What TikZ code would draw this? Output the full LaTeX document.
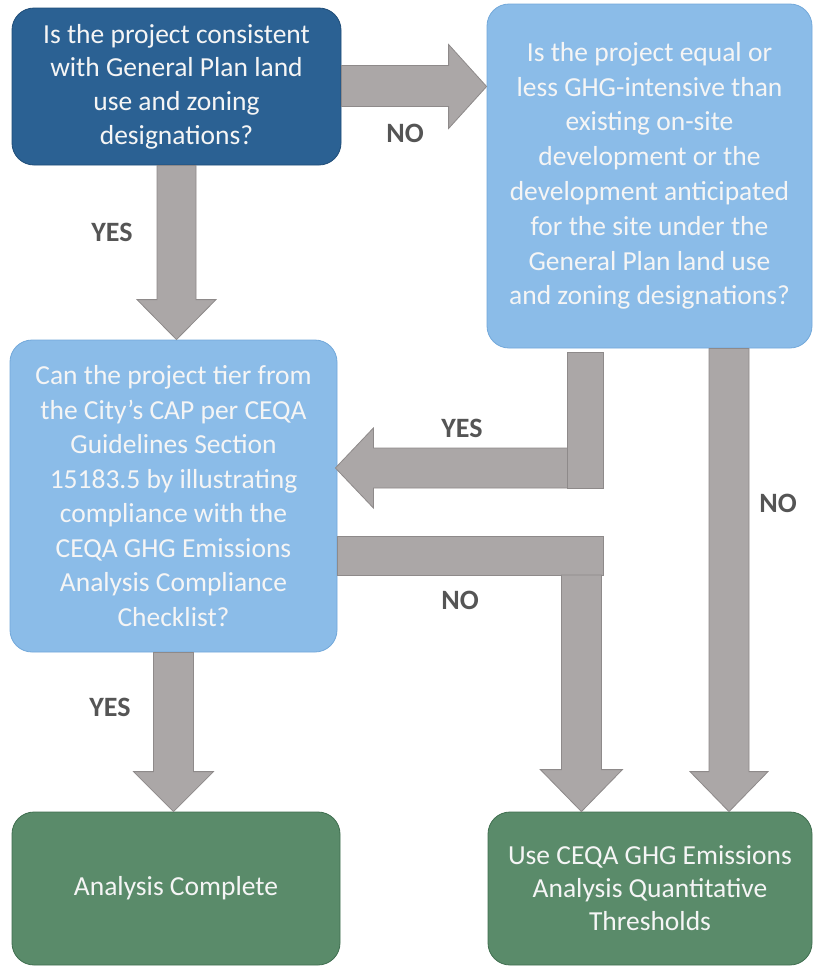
\documentclass[tikz,border=0pt]{standalone}
\usepackage{fontspec}
\setmainfont{Carlito}
\usetikzlibrary{calc}
\definecolor{dkblue}{HTML}{2B6193}
\definecolor{dkblueb}{HTML}{1F4D78}
\definecolor{ltblue}{HTML}{8BBCE8}
\definecolor{ltblueb}{HTML}{72A8DA}
\definecolor{grn}{HTML}{5A8B6A}
\definecolor{grnb}{HTML}{3F6E4F}
\definecolor{arrfill}{HTML}{ABA7A7}
\definecolor{arrdraw}{HTML}{8E8A8A}
\definecolor{lbl}{HTML}{555555}
\newcommand\blkdown[5]{%
  \draw[blk] ($(#1)+(-#3,0)$) -- ($(#2)+(-#3,-#5)$) -- ($(#2)+(-#4,-#5)$) -- (#2)
    -- ($(#2)+(#4,-#5)$) -- ($(#2)+(#3,-#5)$) -- ($(#1)+(#3,0)$) -- cycle;}
\begin{document}
\begin{tikzpicture}[x=1pt,y=-1pt,
  qbox/.style={rounded corners=22pt, line width=0.8pt, align=center,
    text=white!96!black, inner sep=0pt,
    font=\fontsize{27.5}{34.8}\selectfont},
  blk/.style={fill=arrfill, draw=arrdraw, line width=0.8pt},
  lab/.style={text=lbl, font=\fontsize{28}{30}\selectfont\bfseries}]
\useasboundingbox (0,0) rectangle (822,967);
\fill[white] (0,0) rectangle (822,967);

% boxes
\node[qbox, fill=dkblue, draw=dkblueb, minimum width=329pt, minimum height=157pt,
  font=\fontsize{27.5}{33.7}\selectfont] (A) at (176.5,86.5)
  {Is the project consistent\\with General Plan land\\use and zoning\\designations?};
\node[qbox, fill=ltblue, draw=ltblueb, minimum width=325pt, minimum height=344pt] (B) at (649.5,176)
  {Is the project equal or\\less GHG-intensive than\\existing on-site\\development or the\\development anticipated\\for the site under the\\General Plan land use\\and zoning designations?};
\node[qbox, fill=ltblue, draw=ltblueb, minimum width=327pt, minimum height=312pt,
  font=\fontsize{27.5}{34.5}\selectfont] (C) at (173.5,496)
  {Can the project tier from\\the City’s CAP per CEQA\\Guidelines Section\\15183.5 by illustrating\\compliance with the\\CEQA GHG Emissions\\Analysis Compliance\\Checklist?};
\node[qbox, fill=grn, draw=grnb, minimum width=328pt, minimum height=153pt] (D) at (176,888.5)
  {Analysis Complete};
\node[qbox, fill=grn, draw=grnb, minimum width=324pt, minimum height=153pt,
  font=\fontsize{27.5}{33}\selectfont] (E) at (650,888.5)
  {Use CEQA GHG Emissions\\Analysis Quantitative\\Thresholds};

% arrow A -> B (NO)
\coordinate (a1s) at (A.east);
\coordinate (a1t) at (B.west |- A.east);
\draw[blk] ($(a1s)+(0,-21)$) -- ($(a1t)+(-38,-21)$) -- ($(a1t)+(-38,-42)$) -- (a1t)
  -- ($(a1t)+(-38,42)$) -- ($(a1t)+(-38,20)$) -- ($(a1s)+(0,20)$) -- cycle;

% arrow A -> C (YES)
\coordinate (a2s) at (A.south);
\coordinate (a2t) at (A.south |- C.north);
\blkdown{a2s}{a2t}{19.5}{39.5}{40}

% arrow B -> C (YES, elbow)
\coordinate (a3t) at ($(C.east)+(-2,-28)$);
\coordinate (a3c) at ($(B.south)+(-64.5,0)$);
\draw[blk] ($(a3c |- a3t)+(0,-20)$) -- ($(a3t)+(38,-20)$) -- ($(a3t)+(38,-40)$) -- (a3t)
  -- ($(a3t)+(38,40)$) -- ($(a3t)+(38,20)$) -- ($(a3c |- a3t)+(0,20)$) -- cycle;
\draw[blk] ($(B.south)+(-82.5,4)$) rectangle ($(B.south)+(-46.5,140)$);

% arrow C -> E (NO, elbow)
\draw[blk] ($(C.east)+(0,40)$) rectangle ($(C.east)+(266,79)$);
\coordinate (a4s) at ($(C.east)+(244,79)$);
\coordinate (a4t) at (a4s |- E.north);
\blkdown{a4s}{a4t}{20}{41}{42}

% arrow B -> E (NO)
\coordinate (a5s) at ($(B.south)+(79.5,0)$);
\coordinate (a5t) at (a5s |- E.north);
\blkdown{a5s}{a5t}{20}{39}{40}

% arrow C -> D (YES)
\coordinate (a6s) at (C.south);
\coordinate (a6t) at (C.south |- D.north);
\blkdown{a6s}{a6t}{20}{40}{40}

% labels
\node[lab] (l1) at (405,133) {NO};
\node[lab] (l2) at (112,232) {YES};
\node[lab] (l3) at (462,428) {YES};
\node[lab] (l4) at (778,503) {NO};
\node[lab] (l5) at (460,600) {NO};
\node[lab] (l6) at (110,707) {YES};
\end{tikzpicture}
\end{document}
